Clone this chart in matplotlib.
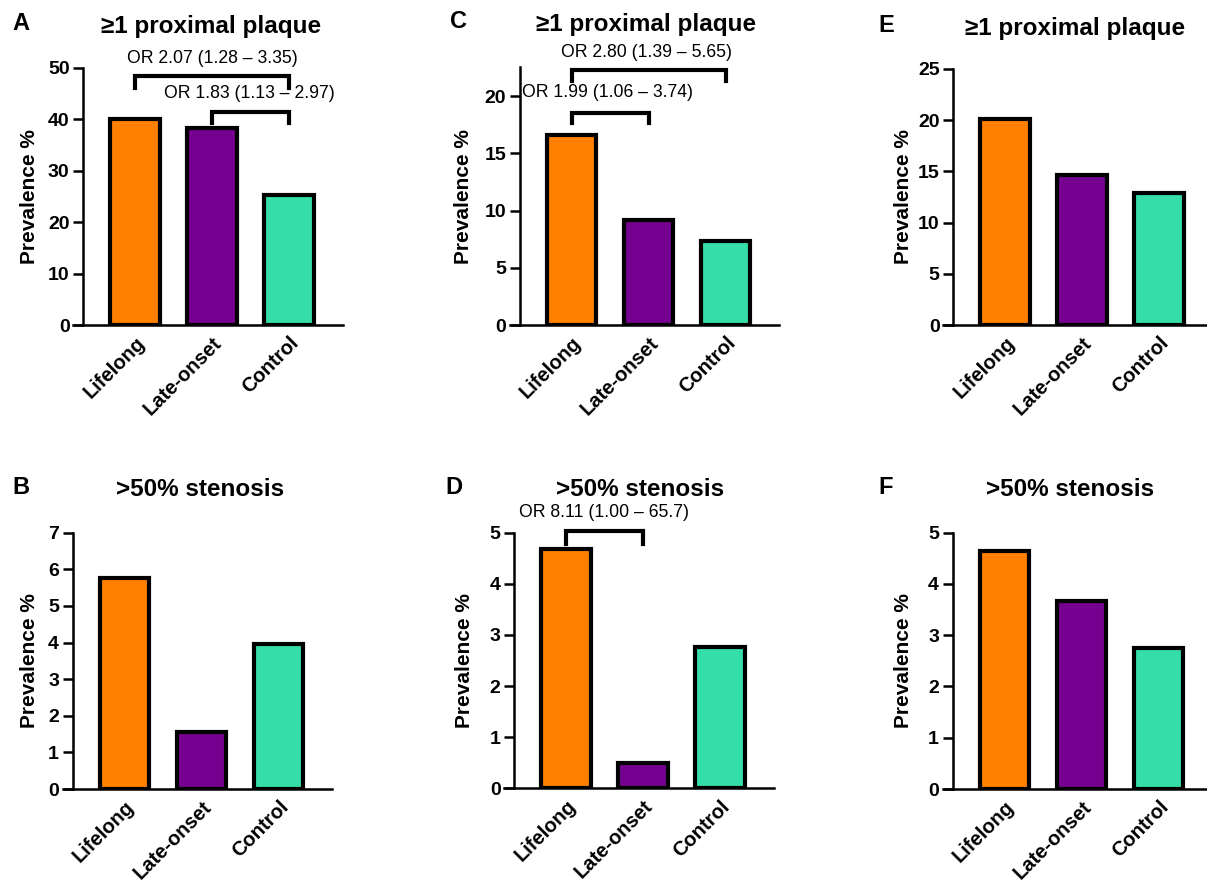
import matplotlib
matplotlib.use("Agg")
import matplotlib.pyplot as plt

plt.rcParams['font.family'] = ['Liberation Sans', 'DejaVu Sans']

# datos
groups = ['Lifelong', 'Late-onset', 'Control']
colors = ['#FF8000', '#75008F', '#35DEA8']

plaque_A = [40.0, 38.4, 25.3]
stenosis_B = [5.76, 1.57, 3.95]
plaque_C = [16.6, 9.2, 7.3]
stenosis_D = [4.68, 0.49, 2.77]
plaque_E = [20.1, 14.6, 12.9]
stenosis_F = [4.65, 3.67, 2.76]

ylims = {'A': (50, 10), 'B': (7, 1), 'C': (22.5, 5), 'D': (5, 1), 'E': (25, 5), 'F': (5, 1)}
titles = {'A': '≥1 proximal plaque', 'C': '≥1 proximal plaque', 'E': '≥1 proximal plaque',
          'B': '>50% stenosis', 'D': '>50% stenosis', 'F': '>50% stenosis'}
values = {'A': plaque_A, 'B': stenosis_B, 'C': plaque_C,
          'D': stenosis_D, 'E': plaque_E, 'F': stenosis_F}

# OR brackets: (x0, x1, top, bottom, text, text_x, text_y)
brackets = {
    'A': [(0, 2, 48.5, 46.1, 'OR 2.07 (1.28 – 3.35)', 1.0, 51.8),
          (1, 2, 41.5, 39.3, 'OR 1.83 (1.13 – 2.97)', 1.49, 45.1)],
    'C': [(0, 2, 22.3, 21.3, 'OR 2.80 (1.39 – 5.65)', 0.97, 23.8),
          (0, 1, 18.5, 17.6, 'OR 1.99 (1.06 – 3.74)', 0.47, 20.3)],
    'D': [(0, 1, 5.04, 4.78, 'OR 8.11 (1.00 – 65.7)', 0.49, 5.39)],
}

W, H = 1207, 885
# pixel geometry: center of first bar, y pixel of zero, y pixel of top
geom = {'A': (135, 325, 68), 'B': (124.5, 789, 532.7), 'C': (571.5, 325, 67.4),
        'D': (566, 788.3, 532.7), 'E': (1005, 325, 69), 'F': (1004.5, 789, 532.7)}
ylabel_px = {'A': 39, 'B': 39, 'C': 473, 'D': 474, 'E': 913, 'F': 913}
spacing = 77.0
xl = (-0.8, 2.7)

fig = plt.figure(figsize=(W / 100, H / 100), dpi=100)

for key in 'ABCDEF':
    cx, y0, y1 = geom[key]
    left = cx + xl[0] * spacing
    right = cx + xl[1] * spacing
    ax = fig.add_axes([left / W, (H - y0) / H, (right - left) / W, (y0 - y1) / H])
    ax.spines['top'].set_visible(False)
    ax.spines['right'].set_visible(False)
    ax.spines['left'].set_position(('data', -0.67))
    ax.spines['left'].set_linewidth(1.8)
    ax.spines['bottom'].set_linewidth(1.8)
    ax.bar(range(3), values[key], width=0.64, color=colors, edgecolor='black', linewidth=3, zorder=3)
    ax.set_xlim(*xl)
    top, step = ylims[key]
    ax.set_ylim(0, top)
    yt = list(range(0, int(top) + 1, step))
    ax.set_yticks(yt)
    ax.set_yticklabels([str(v) for v in yt], fontweight='bold', fontsize=14)
    ax.tick_params(axis='y', length=7, width=1.8, pad=3)
    ax.tick_params(axis='x', length=0, pad=6)
    ax.set_xticks(range(3))
    ax.set_xticklabels(groups, rotation=45, ha='right', va='top', rotation_mode='anchor',
                       fontweight='bold', fontsize=14.5)
    ax.set_ylabel('Prevalence %', fontweight='bold', fontsize=15)
    ax.yaxis.set_label_coords((ylabel_px[key] - left) / (right - left), 0.5)
    for (x0, x1, bt, bb, txt, tx, ty) in brackets.get(key, []):
        ax.plot([x0, x0, x1, x1], [bb, bt, bt, bb], color='black', lw=3, clip_on=False,
                solid_joinstyle='miter', zorder=4)
        ax.text(tx, ty, txt, ha='center', va='center', fontsize=12.7, clip_on=False)

# titulos y letras
title_pos = {'A': (211, 26), 'C': (646, 24), 'E': (1075, 28),
             'B': (200, 490), 'D': (640, 490), 'F': (1070, 490)}
letter_pos = {'A': (12, 24), 'C': (450, 22), 'E': (878, 26),
              'B': (12, 488), 'D': (445, 488), 'F': (878, 488)}
for key in 'ABCDEF':
    tx, ty = title_pos[key]
    fig.text(tx / W, 1 - ty / H, titles[key], ha='center', va='center', fontsize=17.5, fontweight='bold')
    lx, ly = letter_pos[key]
    fig.text(lx / W, 1 - ly / H, key, ha='left', va='center', fontsize=17, fontweight='bold')

fig.savefig('out.png', dpi=100)
